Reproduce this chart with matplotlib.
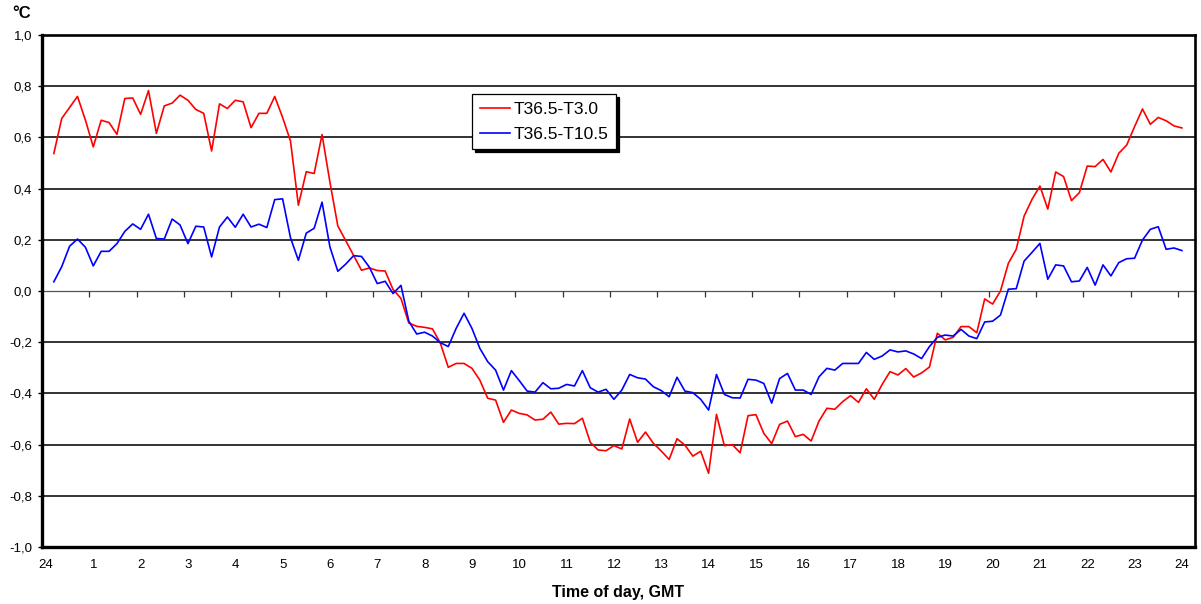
import numpy as np
import matplotlib
matplotlib.use("Agg")
import matplotlib.pyplot as plt
from matplotlib.transforms import ScaledTranslation

plt.rcParams['font.family'] = ['Liberation Sans', 'DejaVu Sans']

# 10-minute values, first one at 00:15 GMT
t_start = 0.25
step = 1 / 6

t36_t3 = [
    0.537, 0.674, 0.717, 0.760, 0.668, 0.563, 0.667, 0.658, 0.612, 0.752,
    0.754, 0.690, 0.783, 0.616, 0.723, 0.734, 0.765, 0.745, 0.709, 0.694,
    0.547, 0.731, 0.713, 0.745, 0.739, 0.638, 0.694, 0.694, 0.760, 0.678,
    0.586, 0.335, 0.466, 0.459, 0.611, 0.425, 0.254, 0.197, 0.139, 0.081,
    0.090, 0.080, 0.078, 0.006, -0.029, -0.125, -0.138, -0.142, -0.148, -0.204,
    -0.298, -0.283, -0.283, -0.302, -0.348, -0.419, -0.426, -0.513, -0.465, -0.478,
    -0.484, -0.504, -0.501, -0.473, -0.520, -0.517, -0.518, -0.497, -0.591, -0.621,
    -0.624, -0.604, -0.617, -0.500, -0.591, -0.551, -0.595, -0.625, -0.658, -0.577,
    -0.602, -0.645, -0.626, -0.712, -0.482, -0.604, -0.600, -0.632, -0.487, -0.483,
    -0.556, -0.596, -0.521, -0.508, -0.569, -0.560, -0.586, -0.508, -0.458, -0.462,
    -0.432, -0.409, -0.435, -0.382, -0.423, -0.365, -0.315, -0.328, -0.303, -0.336,
    -0.320, -0.297, -0.165, -0.191, -0.181, -0.139, -0.139, -0.163, -0.031, -0.051,
    0.000, 0.108, 0.163, 0.293, 0.358, 0.410, 0.320, 0.465, 0.447, 0.353,
    0.384, 0.488, 0.486, 0.514, 0.465, 0.538, 0.570, 0.642, 0.711, 0.651,
    0.678, 0.665, 0.645, 0.637,
]

t36_t10 = [
    0.036, 0.095, 0.175, 0.203, 0.171, 0.098, 0.155, 0.155, 0.185, 0.233,
    0.262, 0.241, 0.300, 0.205, 0.203, 0.281, 0.258, 0.185, 0.253, 0.250,
    0.133, 0.250, 0.289, 0.249, 0.300, 0.250, 0.261, 0.248, 0.357, 0.360,
    0.208, 0.120, 0.226, 0.245, 0.347, 0.172, 0.077, 0.105, 0.138, 0.135,
    0.093, 0.029, 0.038, -0.010, 0.022, -0.118, -0.168, -0.161, -0.176, -0.202,
    -0.217, -0.146, -0.087, -0.146, -0.224, -0.276, -0.309, -0.387, -0.311, -0.350,
    -0.391, -0.395, -0.358, -0.382, -0.380, -0.365, -0.371, -0.311, -0.378, -0.395,
    -0.384, -0.423, -0.387, -0.326, -0.339, -0.344, -0.374, -0.389, -0.413, -0.337,
    -0.391, -0.397, -0.423, -0.465, -0.326, -0.404, -0.417, -0.418, -0.345, -0.348,
    -0.361, -0.438, -0.342, -0.322, -0.387, -0.387, -0.404, -0.335, -0.302, -0.309,
    -0.283, -0.283, -0.283, -0.240, -0.267, -0.254, -0.230, -0.238, -0.234, -0.246,
    -0.264, -0.217, -0.181, -0.172, -0.176, -0.150, -0.176, -0.186, -0.121, -0.118,
    -0.094, 0.007, 0.009, 0.117, 0.151, 0.186, 0.046, 0.102, 0.098, 0.036,
    0.039, 0.092, 0.023, 0.102, 0.059, 0.111, 0.126, 0.128, 0.199, 0.241,
    0.251, 0.163, 0.168, 0.158,
]

hours = list(range(25))
hour_labels = ["24"] + [str(h) for h in range(1, 25)]
y_ticks = [-1.0, -0.8, -0.6, -0.4, -0.2, 0.0, 0.2, 0.4, 0.6, 0.8, 1.0]

t = t_start + step * np.arange(len(t36_t3))

fig = plt.figure(figsize=(12.01, 6.04), dpi=100)
ax = fig.add_axes([42 / 1201, 1 - 547 / 604, 1153 / 1201, 512 / 604])

# horizontal grid; the 0 line is the category axis
for yv in y_ticks[1:-1]:
    if yv != 0:
        ax.axhline(yv, color='#111111', lw=1.2, zorder=1)
ax.axhline(0, color='#555555', lw=0.9, zorder=1)
# small tick marks hanging below the zero line
ax.plot(hours[1:], [0] * 24, ls='none', marker=3, ms=4, mew=0.9,
        color='#333333', zorder=1)

l1, = ax.plot(t, t36_t3, color='#ff0000', lw=1.2, zorder=3, label='T36.5-T3.0')
l2, = ax.plot(t, t36_t10, color='#0000ff', lw=1.2, zorder=3, label='T36.5-T10.5')

ax.set_xlim(0, 24.36)
ax.set_ylim(-1, 1)

ax.set_yticks(y_ticks)
ax.set_yticklabels([f"{v:.1f}".replace('.', ',') for v in y_ticks], fontsize=9.5)
ax.tick_params(axis='y', direction='out', length=3, width=1, pad=4, colors='black')

ax.set_xticks(hours)
ax.set_xticklabels(hour_labels, fontsize=9.5)
ax.tick_params(axis='x', length=0, pad=9)
shift = ScaledTranslation(0.04, 0, fig.dpi_scale_trans)
for lab in ax.get_xticklabels():
    lab.set_transform(lab.get_transform() + shift)

for side in ['left', 'bottom']:
    ax.spines[side].set_linewidth(2.4)
for side in ['top', 'right']:
    ax.spines[side].set_linewidth(1.9)
for sp in ax.spines.values():
    sp.set_color('black')

leg = ax.legend(handles=[l1, l2], loc='upper left',
                bbox_to_anchor=(472 / 1201, 1 - 94 / 604), bbox_transform=fig.transFigure,
                fontsize=12.5, frameon=True, fancybox=False, framealpha=1,
                edgecolor='black', borderpad=0.45, labelspacing=0.55,
                handlelength=1.75, handletextpad=0.2, borderaxespad=0,
                shadow={'color': 'black', 'alpha': 1})
leg.get_frame().set_linewidth(0.9)
leg.set_zorder(5)

fig.text(12 / 1201, 1 - 14 / 604, "°C", fontsize=12, fontweight='bold',
         ha='left', va='center')
fig.text(618 / 1201, 1 - 592 / 604, "Time of day, GMT", fontsize=11.5,
         fontweight='bold', ha='center', va='center')

fig.savefig("out.png", dpi=100)
